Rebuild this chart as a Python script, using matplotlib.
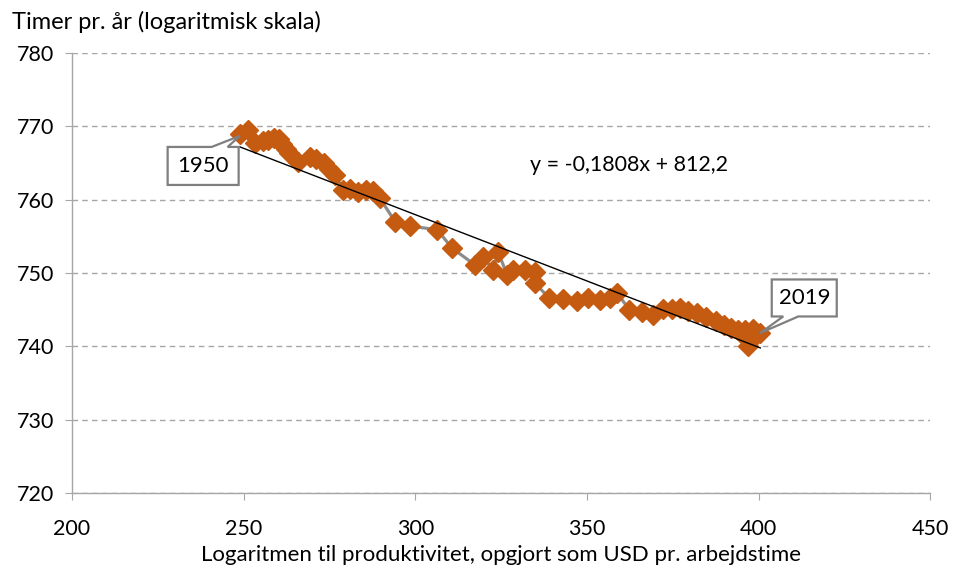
import matplotlib
matplotlib.use("Agg")
import matplotlib.pyplot as plt
from matplotlib.patches import Polygon
from matplotlib.transforms import IdentityTransform
import numpy as np

plt.rcParams['font.family'] = ['Lato', 'DejaVu Sans']

# productivity (log scale index) and hours per year, 1950-2019
prod = [248.9, 251.3, 253.3, 255.6, 257.1, 258.9, 260.3, 261.2, 262.4, 263.2,
        265.9, 269.4, 271.1, 273.4, 274.9, 276.6, 279.0, 281.0, 283.3, 285.7,
        287.7, 289.7, 294.1, 298.5, 306.4, 310.7, 317.4, 319.8, 322.7, 324.1,
        326.8, 328.5, 332.0, 334.9, 334.9, 339.0, 343.1, 347.1, 350.4, 353.9,
        356.8, 358.8, 362.3, 366.1, 369.3, 372.2, 374.8, 377.2, 379.5, 382.1,
        384.7, 387.7, 390.0, 392.0, 394.1, 394.9, 396.1, 397.0, 397.6, 398.4,
        399.3, 400.5]
hours = [769.0, 769.5, 767.7, 768.0, 768.1, 768.4, 768.3, 767.6, 766.9, 766.4,
         765.1, 765.8, 765.5, 765.0, 764.2, 763.4, 761.3, 761.5, 761.0, 761.3,
         761.2, 760.2, 757.0, 756.4, 755.9, 753.4, 751.1, 752.2, 750.4, 752.9,
         749.7, 750.4, 750.4, 750.1, 748.6, 746.6, 746.5, 746.2, 746.6, 746.3,
         746.6, 747.3, 745.0, 744.7, 744.3, 745.1, 745.1, 745.2, 744.8, 744.5,
         744.0, 743.5, 742.9, 742.5, 742.2, 741.8, 742.2, 740.0, 740.9, 742.4,
         741.6, 741.8]

slope = -0.1808
intercept = 812.2
eq_label = "y = -0,1808x + 812,2"

fig = plt.figure(figsize=(9.6, 5.7), dpi=100)
ax = fig.add_axes([0.075, 0.135, 0.894, 0.772])

ax.plot(prod, hours, color='#8c8c8c', lw=2.3, zorder=2)
ax.plot(prod, hours, ls='none', marker='D', ms=10, color='#C55A11',
        mec='#C55A11', zorder=3)

xt = np.array([min(prod), max(prod)])
ax.plot(xt, slope * xt + intercept, color='black', lw=1.0, zorder=4)

ax.set_xlim(200, 450)
ax.set_ylim(720, 780)
ax.set_xticks(range(200, 451, 50))
ax.set_yticks(range(720, 781, 10))
ax.yaxis.grid(True, ls=(0, (4, 3)), color='#a6a6a6', lw=1.0)
ax.set_axisbelow(True)

for s in ['top', 'right']:
    ax.spines[s].set_visible(False)
for s in ['left', 'bottom']:
    ax.spines[s].set_color('#a6a6a6')
    ax.spines[s].set_linewidth(1.0)

ax.tick_params(axis='x', direction='out', length=5, color='#a6a6a6',
               labelsize=15.5, pad=14)
ax.tick_params(axis='y', direction='out', length=5, color='#a6a6a6',
               labelsize=15.5, pad=8)

ax.set_xlabel("Logaritmen til produktivitet, opgjort som USD pr. arbejdstime",
              fontsize=16, labelpad=4)
fig.text(0.013, 0.962, "Timer pr. år (logaritmisk skala)", fontsize=17,
         va='center', ha='left')

ax.text(362.3, 764.7, eq_label, fontsize=15.5, ha='center', va='center')


def callout(label, pos, tip, hw, hh, side, b1, b2):
    # box (half sizes in px) around pos with a wedge from one edge to tip
    cx, cy = ax.transData.transform(pos)
    px, py = ax.transData.transform(tip)
    if side == 'top':
        e = cy + hh
        verts = [(cx - hw, e), (cx + b1, e), (px, py), (cx + b2, e),
                 (cx + hw, e), (cx + hw, cy - hh), (cx - hw, cy - hh)]
    else:
        e = cy - hh
        verts = [(cx - hw, e), (cx + b1, e), (px, py), (cx + b2, e),
                 (cx + hw, e), (cx + hw, cy + hh), (cx - hw, cy + hh)]
    ax.add_patch(Polygon(verts, closed=True, fc='white', ec='#7f7f7f',
                         lw=1.6, transform=IdentityTransform(), zorder=5,
                         joinstyle='miter'))
    ax.text(pos[0], pos[1], label, fontsize=16, ha='center', va='center',
            zorder=6)


callout("1950", (238.2, 764.6), (prod[0], hours[0] - 0.3), 35.5, 19,
        'top', 8.5, 24.5)
callout("2019", (413.3, 746.6), (prod[-1] - 0.1, hours[-1]), 32.5, 18.5,
        'bottom', -21, -6)

fig.savefig("out.png", dpi=100)
